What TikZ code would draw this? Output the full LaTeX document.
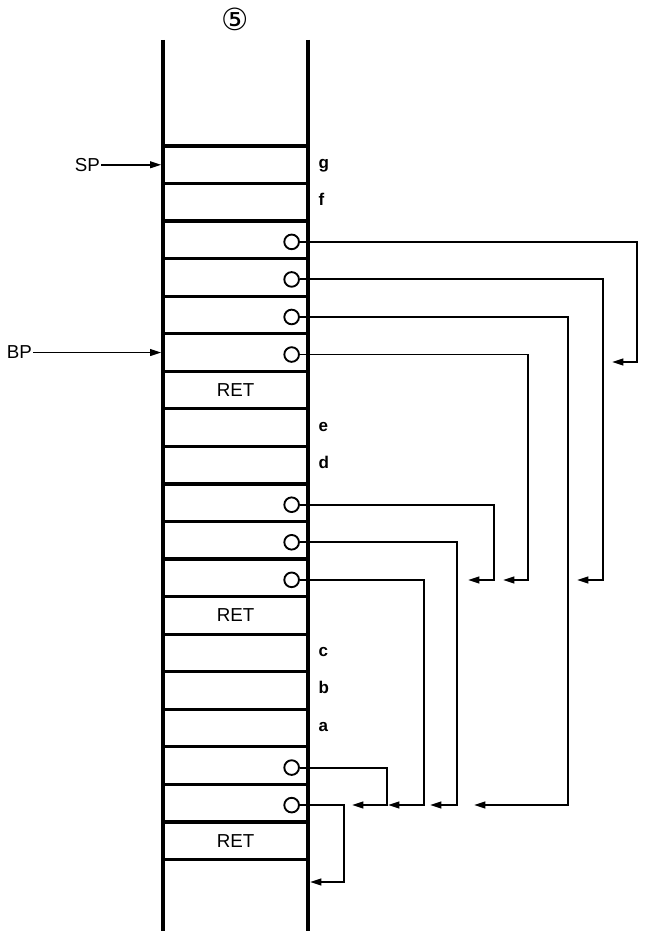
\documentclass[tikz,border=0pt]{standalone}
\usepackage{fontspec}
\setmainfont{Liberation Sans}
\newfontfamily\symfont{DejaVu Sans}
\usetikzlibrary{arrows.meta}
\usetikzlibrary{positioning}

\tikzset{
  cell/.style={draw,line width=2.8pt,minimum width=43.5mm,minimum height=11.265mm,inner sep=0pt},
  wall/.style={line width=2.8pt},
  hole/.style={circle,draw,fill=white,line width=1.6pt,minimum size=4.4mm,inner sep=0pt},
  tag/.style={font=\bfseries\fontsize{14.5}{17}\selectfont,inner sep=0pt,text height=1.5ex,text depth=0.4ex},
  reglbl/.style={font=\fontsize{16}{19}\selectfont,inner sep=1pt},
  link/.style={line width=1.6pt,-{Triangle[length=3.4mm,width=2mm]}}
}

\begin{document}
\begin{tikzpicture}[x=0.3mm,y=-0.3mm]
\useasboundingbox (0,0) rectangle (646,931);
\node[font=\symfont\fontsize{26}{28}\selectfont,inner sep=0pt] (frame) at (235,19) {⑤};
% stack walls
\draw[wall] (163,40) -- (163,931);
\draw[wall] (308,40) -- (308,931);
% stack cells
\foreach \k in {0,...,18}
  \node[cell] (c\k) at (235.5,{164.775+37.55*\k}) {};
\foreach \k in {6,12,18}
  \node (r\k) at (c\k) [font=\fontsize{16}{19}\selectfont] {RET};
\foreach \k/\t in {0/g,1/f,7/e,8/d,13/c,14/b,15/a}
  \node[tag,right=2.6mm of c\k.east] (l\k) {\t};
% saved frame pointers
\foreach \k in {2,3,4,5,9,10,11,16,17}
  \node[hole] (h\k) at ([xshift=-5.4mm,yshift=-0.6mm]c\k.east) {};
\foreach \k/\x/\y/\t in {2/637/362/612,3/603/580/577,4/568/805/474,5/528/580/503,9/494/580/468,10/457/805/430,11/424/805/388,16/387/805/352,17/344/882/310}{
  \coordinate (e\k) at (\t,\y);
  \draw[link] (h\k.east) -| (\x,\y) -- (e\k);
}
% registers
\node[reglbl,left=18mm of c0.west] (sp) {SP};
\node[reglbl,left=38.4mm of c5.west] (bp) {BP};
\draw[link] (sp) -- (c0.west);
\draw[link] (bp) -- (c5.west);
\end{tikzpicture}
\end{document}
